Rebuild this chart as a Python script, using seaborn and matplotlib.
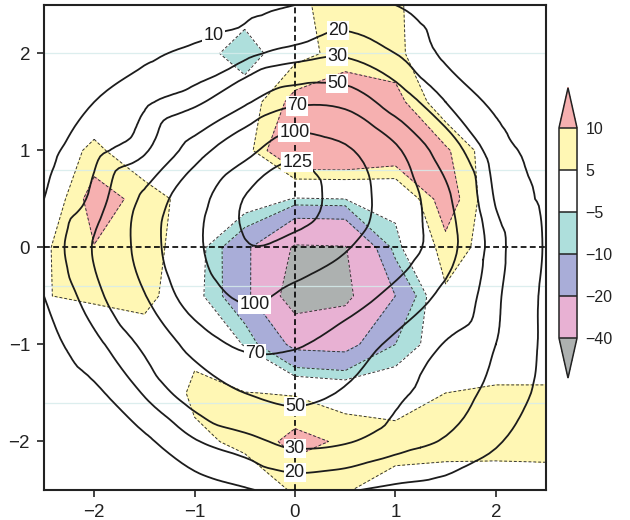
import numpy as np
import matplotlib
matplotlib.use("Agg")
import matplotlib.pyplot as plt
import matplotlib.tri as mtri
from matplotlib.colors import ListedColormap, BoundaryNorm
import seaborn as sns

# Grid coordinates (columns = x, rows = y from top to bottom)
x_coords = [-2.5, -2.0, -1.5, -1.0, -0.5, 0.0, 0.5, 1.0, 1.5, 2.0, 2.5]
y_coords = [2.5, 2.0, 1.5, 1.0, 0.5, 0.0, -0.5, -1.0, -1.5, -2.0, -2.5]

# Shaded anomaly field
anomaly = [
    [0.0, 0.0, 0.0, 0.0, 0.0, 3.0, 9.0, 6.0, 0.0, 0.0, 0.0],
    [0.0, 0.0, 0.0, 0.0, -10.0, 3.0, 7.0, 6.5, -1.0, 0.0, 0.0],
    [0.0, 0.0, 0.0, 0.0, 1.3, 12.2, 15.0, 12.3, 0.8, 0.0, 0.0],
    [0.0, 6.5, 0.0, 0.0, 2.0, 20.0, 20.0, 16.0, 11.0, 0.6, 0.0],
    [-1.0, 13.0, 8.0, 2.2, 0.0, -5.5, -5.0, -3.0, 14.0, 0.0, 0.0],
    [4.2, 9.8, 9.5, -1.5, -17.0, -42.0, -41.0, -7.0, 8.0, 2.0, 0.0],
    [4.8, 6.0, 8.0, -2.5, -16.0, -50.0, -44.0, -20.0, 4.0, 0.0, 0.0],
    [0.0, 0.0, 0.0, 3.8, -5.5, -23.0, -24.0, -10.0, 0.0, 0.0, 0.0],
    [0.0, 0.0, 0.0, 6.0, 5.2, 4.5, 2.0, 1.0, 5.0, 6.0, 6.0],
    [0.0, 0.0, 0.0, 4.0, 6.0, 12.0, 9.0, 8.0, 7.5, 7.0, 6.5],
    [0.0, 0.0, 0.0, 0.0, 2.0, 5.5, 5.5, 2.0, 1.5, 2.0, 3.0],
]

# Contoured magnitude field
magnitude = [
    [0, 1, 3, 5, 7, 10, 14, 10, 5, 2, 0],
    [1, 4, 8, 12, 17, 24, 28, 20, 8, 4, 1],
    [4, 10, 18, 27, 47, 66, 64, 40, 20, 8, 3],
    [7, 17, 28, 60, 91, 118, 104, 74, 40, 15, 6],
    [10, 23, 54, 88, 126, 134, 114, 86, 54, 19, 8],
    [13, 31, 58, 94, 123, 118, 102, 82, 58, 24, 9],
    [10, 26, 49, 82, 104, 93, 81, 64, 45, 22, 8],
    [6, 17, 33, 57, 74, 72, 60, 46, 29, 20, 8],
    [3, 8, 21, 37, 50, 56, 48, 33, 25, 17, 7],
    [1, 3, 8, 19, 26, 33, 31, 24, 19, 11, 4],
    [0, 1, 3, 5, 9, 13, 11, 8, 6, 4, 1],
]

shade_levels = [-40, -20, -10, -5, 5, 10]
shade_colors = ["#e8b1d3", "#a9add8", "#aedfdc", "#ffffff", "#fff7b4"]
under_color = "#adb1b0"
over_color = "#f6b0b0"

line_levels = [10, 20, 30, 50, 70, 100, 125]
label_spots = [(-0.8, 2.15), (0.42, 2.29), (0.42, 1.96), (0.42, 1.70),
               (0.02, 1.44), (0.0, 1.13), (0.02, 0.86), (-0.4, -0.62),
               (-0.4, -1.13), (0.0, -1.67), (0.0, -2.06), (0.0, -2.29)]

guide_rows = [2.0, 0.8, -0.4, -1.6]
tick_vals = [-2, -1, 0, 1, 2]

sns.set_theme(style="ticks")
plt.rcParams["font.family"] = ["Liberation Sans", "DejaVu Sans"]
plt.rcParams["axes.unicode_minus"] = True

fig = plt.figure(figsize=(6.3, 5.2), dpi=100)
ax = fig.add_axes([0.0698, 0.0577, 0.7968, 0.9327])

X, Y = np.meshgrid(np.array(x_coords), np.array(y_coords))
A = np.array(anomaly, dtype=float)
M = np.array(magnitude, dtype=float)

# Filled anomaly bands
cmap = ListedColormap(shade_colors)
cmap.set_under(under_color)
cmap.set_over(over_color)
norm = BoundaryNorm(shade_levels, cmap.N)
cf = ax.contourf(X, Y, A, levels=shade_levels, cmap=cmap, norm=norm,
                 extend="both", zorder=1)

# Thin dashed band edges
edges = ax.contour(X, Y, A, levels=shade_levels, colors="#333333",
                   linewidths=0.7, zorder=2)
edges.set_linestyle((0, (3, 2)))

# Faint horizontal guides
for yy in guide_rows:
    ax.axhline(yy, color="#d6ecec", lw=0.9, alpha=0.85, zorder=2.5)

# Dashed cross through the origin
ax.axhline(0, color="black", lw=1.2, linestyle=(0, (3.5, 2)), zorder=3)
ax.axvline(0, color="black", lw=1.2, linestyle=(0, (3.5, 2)), zorder=3)

# Smooth solid contours of the magnitude field
tri = mtri.Triangulation(X.ravel(), Y.ravel())
interp = mtri.CubicTriInterpolator(tri, M.ravel(), kind="geom")
refiner = mtri.UniformTriRefiner(tri)
tri_f, z_f = refiner.refine_field(M.ravel(), triinterpolator=interp, subdiv=3)
cs = ax.tricontour(tri_f, z_f, levels=line_levels, colors="#1c1c1c",
                   linewidths=1.3, zorder=4)
texts = ax.clabel(cs, levels=line_levels, inline=False, fmt="%d",
                  fontsize=13, manual=label_spots)
for t in texts:
    t.set_rotation(0)
    t.set_bbox(dict(boxstyle="square,pad=0.06", fc="white", ec="none"))
    t.set_zorder(6)

ax.set_xlim(-2.5, 2.5)
ax.set_ylim(-2.5, 2.5)
ax.set_xticks(tick_vals)
ax.set_yticks(tick_vals)
ax.tick_params(direction="out", length=5, width=1.2, labelsize=13.5, pad=5,
               top=False, right=False, colors="#222222")
for s in ax.spines.values():
    s.set_visible(True)
    s.set_linewidth(1.5)
    s.set_color("#222222")

# Colour bar with triangular ends
cax = fig.add_axes([0.8873, 0.273, 0.0286, 0.558])
cb = fig.colorbar(cf, cax=cax, extend="both", extendfrac=0.19, drawedges=True)
cb.set_ticks(shade_levels, labels=[str(v).replace("-", "\u2212") for v in shade_levels])
cb.ax.tick_params(length=0, labelsize=11.5, pad=6, colors="#222222")
cb.outline.set_linewidth(1.1)
cb.outline.set_edgecolor("#222222")
cb.dividers.set_color("#222222")
cb.dividers.set_linewidth(1.1)

fig.savefig("out.png", dpi=100)
